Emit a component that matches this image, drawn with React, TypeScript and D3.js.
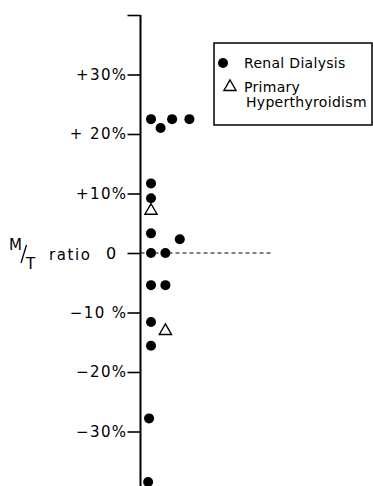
import React, { useRef, useEffect } from "react";
import * as d3 from "d3";

// M/T ratio (%) with a small horizontal offset (in dot widths) so stacked dots don't overlap
const renalValues = [22.5, 21, 22.5, 22.5, 11.7, 9.2, 3.3, 2.3, 0, 0, -5.4, -5.4, -11.6, -15.6, -27.8, -38.5];
const renalOffsets = [0, 1, 2.2, 4, 0, 0, 0, 3, 0, 1.5, 0, 1.5, 0, 0, -0.2, -0.3];
const hyperValues = [7.1, -13.1];
const hyperOffsets = [0, 1.5];
const tickValues = [40, 30, 20, 10, 0, -10, -20, -30];
const tickLabels = ["", "+30%", "+ 20%", "+10%", "0", "\u221210 %", "\u221220%", "\u221230%"];
const legendLabels = ["Renal Dialysis", "Primary", "Hyperthyroidism"];

export default function App() {
  const svgRef = useRef<SVGSVGElement>(null);

  useEffect(() => {
    const svg = d3.select(svgRef.current);
    svg.selectAll("*").remove();
    const font = "DejaVu Sans, sans-serif";
    const axisX = 140.5;

    const y = d3.scaleLinear().domain([-40, 40]).range([491, 15]);
    const x = d3.scaleLinear().domain([0, 4]).range([151, 189.4]);

    // y axis
    const yAxis = d3
      .axisLeft(y)
      .tickValues(tickValues)
      .tickSize(13)
      .tickPadding(0)
      .tickFormat((d, i) => tickLabels[i]);

    const g = svg.append("g").attr("transform", `translate(${axisX},0)`).call(yAxis);
    g.select(".domain").remove();
    g.append("line")
      .attr("x1", 0).attr("x2", 0)
      .attr("y1", y(40)).attr("y2", 486)
      .attr("stroke", "#000").attr("stroke-width", 2);
    g.selectAll(".tick line").attr("stroke", "#000").attr("stroke-width", 1.6);
    g.selectAll(".tick text")
      .attr("fill", "#000")
      .attr("font-size", null)
      .style("font-family", font)
      .style("font-size", "15px")
      .style("letter-spacing", "1.4px");
    g.selectAll(".tick text")
      .filter((d) => d === 0)
      .attr("x", -23)
      .style("font-size", "16px");

    // M/T ratio label
    const lab = svg.append("g").style("font-family", font).attr("fill", "#000");
    lab.append("text").attr("x", 9).attr("y", 250).style("font-size", "15px").text("M");
    lab.append("line")
      .attr("x1", 21).attr("y1", 263).attr("x2", 26.5).attr("y2", 245)
      .attr("stroke", "#000").attr("stroke-width", 1.3);
    lab.append("text").attr("x", 26).attr("y", 269).style("font-size", "15px").text("T");
    lab.append("text").attr("x", 49).attr("y", 260)
      .style("font-size", "15px").style("letter-spacing", "1.6px").text("ratio");

    // dashed reference line at 0
    svg.append("line")
      .attr("x1", axisX).attr("x2", 273)
      .attr("y1", y(0)).attr("y2", y(0))
      .attr("stroke", "#000").attr("stroke-width", 1)
      .attr("stroke-dasharray", "4,3");

    // renal dialysis dots
    svg.append("g")
      .selectAll("circle")
      .data(renalValues)
      .enter()
      .append("circle")
      .attr("cx", (d, i) => x(renalOffsets[i]))
      .attr("cy", (d) => y(d))
      .attr("r", 5)
      .attr("fill", "#000");

    // primary hyperthyroidism triangles
    const tri = d3.symbol().type(d3.symbolTriangle).size(64);
    svg.append("g")
      .selectAll("path")
      .data(hyperValues)
      .enter()
      .append("path")
      .attr("d", tri)
      .attr("transform", (d, i) => `translate(${x(hyperOffsets[i])},${y(d)})`)
      .attr("fill", "none")
      .attr("stroke", "#000")
      .attr("stroke-width", 1.4);

    // legend
    const lg = svg.append("g").style("font-family", font).attr("fill", "#000");
    lg.append("rect")
      .attr("x", 214).attr("y", 43).attr("width", 158).attr("height", 82)
      .attr("fill", "none").attr("stroke", "#000").attr("stroke-width", 1.5);
    lg.append("circle").attr("cx", 223).attr("cy", 63).attr("r", 5).attr("fill", "#000");
    lg.append("path")
      .attr("d", tri)
      .attr("transform", "translate(230,87)")
      .attr("fill", "none").attr("stroke", "#000").attr("stroke-width", 1.4);
    lg.selectAll("text.lbl")
      .data(legendLabels)
      .enter()
      .append("text")
      .attr("class", "lbl")
      .attr("x", (d, i) => (i === 2 ? 246 : 244))
      .attr("y", (d, i) => [68, 92, 107][i])
      .style("font-size", "14px")
      .style("letter-spacing", "0.3px")
      .text((d) => d);
  }, []);

  return (
    <svg
      ref={svgRef}
      width={373}
      height={486}
      style={{ position: "absolute", left: 0, top: 0, background: "#fff" }}
    />
  );
}
